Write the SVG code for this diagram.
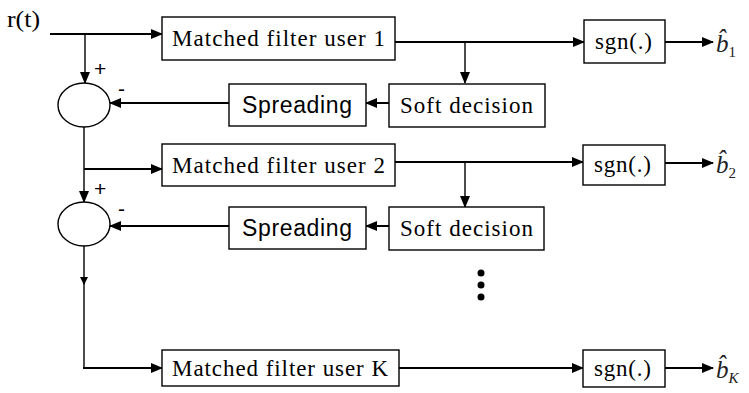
<svg xmlns="http://www.w3.org/2000/svg" width="749" height="393" viewBox="0 0 749 393">
<defs>
<marker id="ah" markerWidth="12" markerHeight="10" refX="11" refY="5" orient="auto" markerUnits="userSpaceOnUse">
<path d="M0,0 L12,5 L0,10 Z" fill="#000"/>
</marker>
<marker id="ahs" markerWidth="8" markerHeight="8" refX="7" refY="4" orient="auto" markerUnits="userSpaceOnUse">
<path d="M0,0 L8,4 L0,8 Z" fill="#000"/>
</marker>
<style>
.box{fill:#fff;stroke:#000;stroke-width:1.4}
.sum{fill:#fff;stroke:#000;stroke-width:1.4}
.ln{fill:none;stroke:#000;stroke-width:2}
.lt{fill:none;stroke:#000;stroke-width:1.4}
.t{font-family:"Liberation Serif","Times New Roman",serif;font-size:23px;fill:#000}
.s{font-family:"Liberation Sans",Arial,sans-serif;font-size:23px;fill:#000}
.m{font-family:"Liberation Serif","Times New Roman",serif;font-style:italic;font-size:25px;fill:#222}
.sub{font-size:15px}
.sg{font-family:"Liberation Sans",Arial,sans-serif;font-size:21px;fill:#000}
</style>
</defs>
<rect width="749" height="393" fill="#fff"/>
<text class="t" x="7" y="27" textLength="33" lengthAdjust="spacingAndGlyphs">r(t)</text>

<g id="connectors">
<path class="ln" d="M50,34 H162" marker-end="url(#ah)"/>
<path class="lt" d="M85,34 V83" marker-end="url(#ah)"/>
<path class="ln" d="M395,42 H584" marker-end="url(#ah)"/>
<path class="lt" d="M465,42 V83" marker-end="url(#ah)"/>
<path class="ln" d="M665,42 H713" marker-end="url(#ah)"/>
<path class="ln" d="M389,103 H366" marker-end="url(#ah)"/>
<path class="ln" d="M229,103 H110" marker-end="url(#ah)"/>
<path class="lt" d="M84,127 V202" marker-end="url(#ah)"/>
<path class="ln" d="M84,169 H162" marker-end="url(#ah)"/>
<path class="ln" d="M395,162 H583" marker-end="url(#ah)"/>
<path class="lt" d="M465,162 V207" marker-end="url(#ah)"/>
<path class="ln" d="M665,163 H713" marker-end="url(#ah)"/>
<path class="ln" d="M389,226 H366" marker-end="url(#ah)"/>
<path class="ln" d="M229,226 H110" marker-end="url(#ah)"/>
<path class="lt" d="M84,246 V284" marker-end="url(#ahs)"/>
<path class="lt" d="M84,283 V368"/>
<path class="ln" d="M83,368 H162" marker-end="url(#ah)"/>
<path class="ln" d="M399,368 H583" marker-end="url(#ah)"/>
<path class="ln" d="M665,368 H713" marker-end="url(#ah)"/>
</g>

<g id="sum1">
<ellipse class="sum" cx="84" cy="105" rx="26" ry="22"/>
<text class="sg" x="94" y="76">+</text>
<text class="sg" x="118" y="96">-</text>
</g>
<g id="sum2">
<ellipse class="sum" cx="84" cy="224" rx="26" ry="22"/>
<text class="sg" x="94" y="196">+</text>
<text class="sg" x="118" y="216">-</text>
</g>

<g id="mf1">
<rect class="box" x="162" y="17" width="233" height="43"/>
<text class="t" x="172" y="46" textLength="213" lengthAdjust="spacing">Matched filter user 1</text>
</g>
<g id="sgn1">
<rect class="box" x="584" y="20" width="81" height="43"/>
<text class="t" x="595" y="49" textLength="57" lengthAdjust="spacing">sgn(.)</text>
</g>
<g id="out1">
<text class="m" x="716" y="52">b&#x302;<tspan class="sub" font-style="normal" dy="5">1</tspan></text>
</g>
<g id="soft1">
<rect class="box" x="389" y="84" width="156" height="43"/>
<text class="t" x="400" y="113" textLength="133" lengthAdjust="spacing">Soft decision</text>
</g>
<g id="spread1">
<rect class="box" x="229" y="84" width="137" height="42"/>
<text class="s" x="242" y="113" textLength="110" lengthAdjust="spacing">Spreading</text>
</g>

<g id="mf2">
<rect class="box" x="162" y="144" width="233" height="42"/>
<text class="t" x="172" y="173" textLength="213" lengthAdjust="spacing">Matched filter user 2</text>
</g>
<g id="sgn2">
<rect class="box" x="583" y="145" width="82" height="40"/>
<text class="t" x="594" y="172" textLength="57" lengthAdjust="spacing">sgn(.)</text>
</g>
<g id="out2">
<text class="m" x="716" y="173">b&#x302;<tspan class="sub" font-style="normal" dy="5">2</tspan></text>
</g>
<g id="soft2">
<rect class="box" x="389" y="207" width="155" height="43"/>
<text class="t" x="400" y="236" textLength="133" lengthAdjust="spacing">Soft decision</text>
</g>
<g id="spread2">
<rect class="box" x="229" y="207" width="137" height="42"/>
<text class="s" x="242" y="236" textLength="110" lengthAdjust="spacing">Spreading</text>
</g>

<g id="dots">
<circle cx="481" cy="273" r="3.5" fill="#000"/>
<circle cx="481" cy="285" r="3.5" fill="#000"/>
<circle cx="481" cy="297" r="3.5" fill="#000"/>
</g>

<g id="mfK">
<rect class="box" x="162" y="350" width="237" height="36"/>
<text class="t" x="172" y="376" textLength="216" lengthAdjust="spacing">Matched filter user K</text>
</g>
<g id="sgnK">
<rect class="box" x="583" y="350" width="82" height="37"/>
<text class="t" x="594" y="376" textLength="57" lengthAdjust="spacing">sgn(.)</text>
</g>
<g id="outK">
<text class="m" x="716" y="378">b&#x302;<tspan class="sub" dy="5">K</tspan></text>
</g>
</svg>
